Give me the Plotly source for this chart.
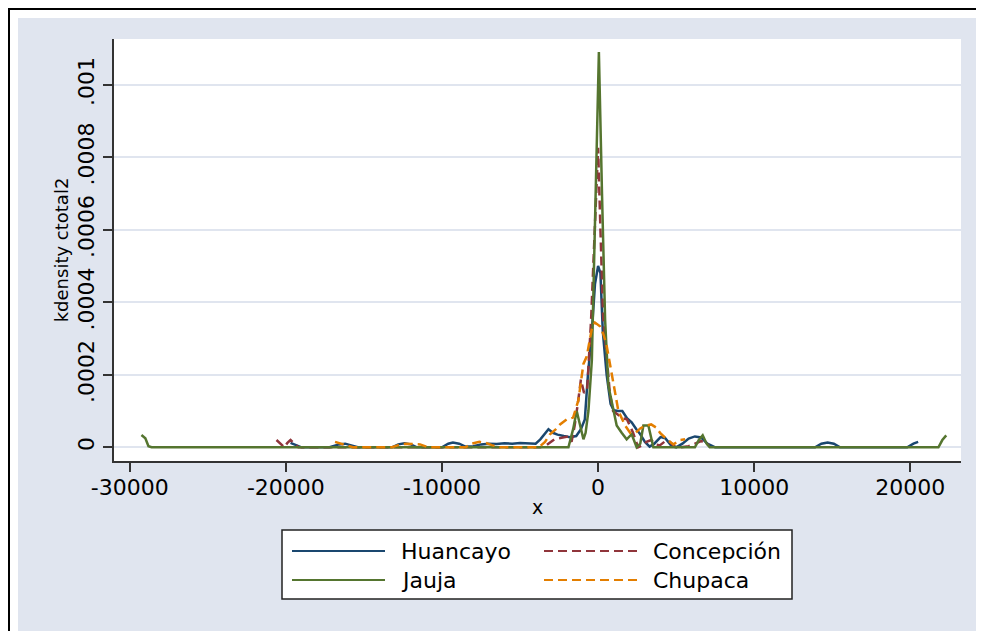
import plotly.graph_objects as go

# ---------------- data ----------------
huancayo_x = [-19700, -19300, -19000, -17200, -16600, -16200, -15800, -15400, -13200, -12800, -12400, -12000,
              -11600, -10000, -9600, -9300, -8900, -8500, -8000, -7500, -7000, -6500, -6000, -5500, -5000,
              -4500, -4000, -3700, -3400, -3180, -2900, -2600, -2200, -1800, -1400, -1100, -850, -650, -400,
              -200, 0, 150, 300, 550, 800, 1000, 1300, 1550, 1850, 2150, 2450, 2700, 3000, 3300, 3600, 4000,
              4300, 4700, 5000, 5400, 5800, 6200, 6600, 7000, 7500, 13900, 14300, 14700, 15100, 15500, 19800,
              20200, 20500]
huancayo_y = [0.000012, 0.000004, 0, 0, 0.000008, 0.00001, 0.000006, 0, 0, 0.000008, 0.000011, 0.000008,
              0, 0, 0.00001, 0.000013, 0.00001, 0.000002, 0.000003, 0.000008, 0.00001, 0.000009, 0.000011,
              0.00001, 0.000012, 0.00001, 0.00001, 0.000022, 0.00004, 0.00005, 0.00004, 0.000035, 0.000031,
              0.000028, 0.000031, 0.00005, 0.000077, 0.0002, 0.00032, 0.00045, 0.0005, 0.00048, 0.00032,
              0.0002, 0.00012, 0.000102, 0.0001, 0.0001, 0.00008, 0.000069, 0.00005, 0.000036, 0.000015,
              0.000002, 0.00001, 0.000028, 0.000025, 0.000004, 0, 0.00001, 0.000024, 0.00003, 0.000027,
              0.00001, 0, 0, 0.00001, 0.000013, 0.00001, 0, 0, 0.00001, 0.000015]

concepcion_x = [-20600, -20300, -20100, -19900, -19700, -19500, -19200, -3700, -3300, -2800, -2250, -1900,
                -1700, -1500, -1300, -1100, -900, -700, -450, -200, 0, 150, 320, 550, 750, 960, 1300, 1600,
                1850, 2240, 2560, 2800, 3100, 3400, 3700, 3950, 4300, 4600, 4900, 5300, 5800, 6200, 6600,
                6900, 7100]
concepcion_y = [0.00002, 0.000008, 0, 0.000012, 0.00002, 0.000012, 0, 0, 0.000006, 0.000022, 0.000028,
                0.00003, 0.000015, 0.00006, 0.00012, 0.000187, 0.00015, 0.00016, 0.00035, 0.0006, 0.000826,
                0.0006, 0.00036, 0.00025, 0.00015, 0.0001, 0.00009, 0.00008, 0.000077, 0.00004, 0, 0.000005,
                0.000015, 0.00002, 0.000008, 0.000005, 0.000017, 0.000015, 0.000002, 0, 0.000003, 0.00001,
                0.000017, 0.000012, 0.000005]

jauja_x = [-29250, -29000, -28800, -28600, -1900, -1600, -1370, -1200, -940, -800, -620, -400, -200, 50,
           250, 450, 660, 980, 1190, 1510, 1830, 2150, 2470, 2700, 2900, 3220, 3540, 6200, 6450, 6700, 6950,
           7150, 21800, 22050, 22300]
jauja_y = [0.000034, 0.000025, 0.000003, 0, 0, 0.00005, 0.0001, 0.00007, 0.000022, 0.00004, 0.0001,
           0.00024, 0.0006, 0.00109, 0.0007, 0.00035, 0.00017, 0.0001, 0.00006, 0.00004, 0.000022,
           0.000036, 0, 0.00001, 0.00006, 0.00006, 0, 0, 0.00002, 0.000033, 0.00001, 0, 0, 0.00002, 0.000033]

chupaca_x = [-16850, -16500, -16100, -15700, -13200, -12800, -12300, -11800, -11400, -11000, -10700, -8500,
             -8100, -7600, -7200, -6800, -6300, -3800, -3400, -3080, -2700, -2440, -2000, -1600, -1260, -940,
             -730, -410, -200, 120, 350, 550, 800, 980, 1300, 1730, 2050, 2400, 2700, 3000, 3400, 3700, 3970,
             4400, 4830, 5250, 5570]
chupaca_y = [0.000015, 0.00001, 0.000004, 0, 0, 0.000006, 0.00001, 0.000009, 0.000008, 0.000002, 0, 0,
             0.00001, 0.000015, 0.000012, 0.000006, 0, 0, 0.000015, 0.000036, 0.00005, 0.000063, 0.000077,
             0.000082, 0.00013, 0.00023, 0.00025, 0.000325, 0.000344, 0.000334, 0.00031, 0.00028, 0.00022,
             0.00017, 0.0001, 0.00006, 0.00004, 0.00004, 0.000052, 0.000059, 0.000063, 0.000055, 0.00004,
             0.000022, 0.000008, 0.00002, 0.000022]

series_names = ["Huancayo", "Concepción", "Jauja", "Chupaca"]
x_ticks = [-30000, -20000, -10000, 0, 10000, 20000]
x_tick_labels = ["-30000", "-20000", "-10000", "0", "10000", "20000"]
y_ticks = [0, 0.0002, 0.0004, 0.0006, 0.0008, 0.001]
y_tick_labels = ["0", ".0002", ".0004", ".0006", ".0008", ".001"]

# ---------------- style ----------------
NAVY, MAROON, GREEN, ORANGE = "#1A476F", "#90353B", "#55752F", "#E37E00"
BG = "#E0E5EF"
FONT = "DejaVu Sans"
OFF = 8                    # page body margin offset
W, H = 984, 631
# plot area in page pixels
L, R, T, B = 114, 961, 39, 461
LW = 2.5


def px(xp):
    return (xp - L) / (R - L)


def py(yp):
    return (B - yp) / (B - T)


dash = "9px,5px"
styles = [(NAVY, "solid"), (MAROON, dash), (GREEN, "solid"), (ORANGE, dash)]
data = [(huancayo_x, huancayo_y), (concepcion_x, concepcion_y), (jauja_x, jauja_y), (chupaca_x, chupaca_y)]

fig = go.Figure()
for name, (xs, ys), (col, ds) in zip(series_names, data, styles):
    fig.add_trace(go.Scatter(x=xs, y=ys, mode="lines", name=name, showlegend=False,
                             line=dict(color=col, width=LW, dash=ds)))

shapes = []
# white inner margin and black frame (page coords)
shapes.append(dict(type="rect", xref="paper", yref="paper", x0=px(0), x1=px(18), y0=py(660), y1=py(0),
                   fillcolor="white", line=dict(width=0), layer="below"))
shapes.append(dict(type="rect", xref="paper", yref="paper", x0=px(0), x1=px(1000), y0=py(18), y1=py(0),
                   fillcolor="white", line=dict(width=0), layer="below"))
shapes.append(dict(type="line", xref="paper", yref="paper", x0=px(9), x1=px(9), y0=py(8), y1=py(660),
                   line=dict(color="black", width=2)))
shapes.append(dict(type="line", xref="paper", yref="paper", x0=px(8), x1=px(1000), y0=py(9), y1=py(9),
                   line=dict(color="black", width=2)))

# legend box
LB_L, LB_R, LB_T, LB_B = 282, 792, 530, 599
shapes.append(dict(type="rect", xref="paper", yref="paper", x0=px(LB_L), x1=px(LB_R), y0=py(LB_B), y1=py(LB_T),
                   fillcolor="white", line=dict(color="#222222", width=1.5)))
rows = [551, 580]
cols = [(292, 385, 399), (544, 637, 651)]
legend_pos = [(0, 0), (0, 1), (1, 0), (1, 1)]  # (row, col) for Huancayo, Concepción, Jauja, Chupaca
annotations = []
for name, (col, ds), (r, c) in zip(series_names, styles, legend_pos):
    x0, x1, xt = cols[c]
    yy = rows[r]
    shapes.append(dict(type="line", xref="paper", yref="paper", x0=px(x0), x1=px(x1), y0=py(yy), y1=py(yy),
                       line=dict(color=col, width=2.2, dash=ds)))
    annotations.append(dict(xref="paper", yref="paper", x=px(xt), y=py(yy), text=name, showarrow=False,
                            xanchor="left", yanchor="middle", font=dict(family=FONT, size=22, color="black")))

fig.update_layout(
    width=W, height=H,
    margin=dict(l=L - OFF, r=W - (R - OFF), t=T - OFF, b=H - (B - OFF), pad=0),
    paper_bgcolor=BG, plot_bgcolor="white",
    font=dict(family=FONT, size=22, color="black"),
    shapes=shapes, annotations=annotations,
    showlegend=False,
)
fig.update_xaxes(range=[-31008, 23245], tickmode="array", tickvals=x_ticks, ticktext=x_tick_labels,
                 showgrid=False, zeroline=False, showline=True, linecolor="#333333", linewidth=1.5,
                 ticks="outside", ticklen=9, tickwidth=1.5, tickcolor="#333333",
                 tickfont=dict(family=FONT, size=22), ticklabelstandoff=-3,
                 title=dict(text="x", font=dict(family=FONT, size=19), standoff=2))
fig.update_yaxes(range=[-0.0000378, 0.001126], tickmode="array", tickvals=y_ticks, ticktext=y_tick_labels,
                 tickangle=-90, showgrid=True, gridcolor=BG, gridwidth=2, zeroline=False,
                 showline=True, linecolor="#333333", linewidth=1.5,
                 ticks="outside", ticklen=9, tickwidth=1.5, tickcolor="#333333",
                 tickfont=dict(family=FONT, size=22), ticklabelstandoff=0,
                 title=dict(text="kdensity ctotal2", font=dict(family=FONT, size=18), standoff=1))

fig.write_html("out.html")
